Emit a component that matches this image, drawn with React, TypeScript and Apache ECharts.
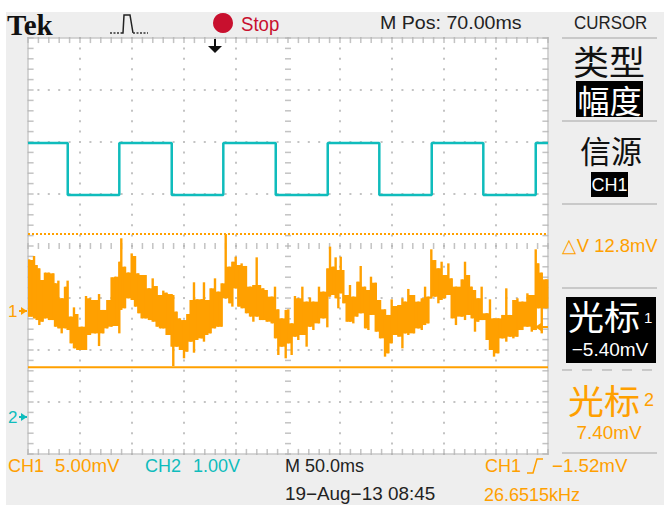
import React, { useEffect, useRef } from "react";
import * as echarts from "echarts";

// CH1 envelope: time (ms across the 500 ms screen), high and low reading (mV)
const ch1Time = [0.3,3.5,5.8,8.3,10.9,14.1,16.3,20.2,24.4,26.0,29.2,32.4,35.6,38.1,41.0,44.2,47.4,51.6,55.8,59.6,64.4,68.3,72.4,76.3,80.4,83.7,87.8,89.7,93.3,96.5,99.7,102.9,106.1,109.3,113.1,116.3,119.9,123.7,126.9,130.1,133.3,138.1,139.7,142.9,146.1,150,153.2,156.4,159.6,162.8,167,169.2,172.4,175.6,179.8,183,186.2,190.1,193.6,196.5,199.7,202.2,205.4,209.6,213.5,216.7,219.9,223.1,226.3,229.5,234.3,237.5,240.7,243.9,247.8,250.3,253.5,256.7,259.9,263.8,267.9,271.1,274.4,279.8,284,287.8,290.4,293.6,295.8,298.4,300.7,303.2,306.4,309.6,312.8,316.7,319.9,324.1,327.3,329.8,334.4,338.5,343.3,346.5,349.7,352.9,356.1,360,362.5,365.7,371.2,375.3,378.6,381.8,385,387.8,391.5,394.6,397.7,401,404.2,407.4,411.5,417,420.2,424,426.6,429.8,433,436.2,441,444.2,448.1,452.2,456.1,459.9,463.6,466.7,470.6,475.4,480.2,484.4,488.2,490.7,494,498.2];
const ch1High = [4.97,4.90,5.29,4.42,4.10,2.98,3.69,3.69,3.62,2.66,2.92,1.22,2.34,2.92,-0.54,0.35,-0.29,-1.51,1.44,1.22,1.06,1.63,0.10,1.06,3.24,3.30,4.74,6.99,4.26,3.69,5.54,5.29,3.62,3.46,3.46,2.18,3.14,2.40,1.54,1.96,1.76,1.63,1.54,-0.06,-0.71,-0.87,-0.29,1.06,2.76,1.12,1.12,2.76,1.06,2.18,3.14,1.86,2.66,7.40,4.26,4.74,5.22,4.42,4.58,4.33,2.34,2.50,5.16,2.50,2.18,2.02,1.38,2.34,0.16,-0.71,0.10,0.16,-1.19,1.44,1.22,2.34,0.90,1.31,0.90,2.34,1.86,4.10,6.19,4.26,5.16,3.94,5.22,3.94,1.54,2.50,1.38,2.82,4.33,2.34,2.02,3.30,2.72,1.06,0.16,-0.38,1.12,0.48,0.58,1.22,0.90,2.12,1.54,0.90,1.22,2.34,1.38,5.93,4.90,4.10,4.74,3.46,4.58,3.14,2.34,3.04,4.74,3.46,2.34,2.02,1.22,2.34,-0.22,1.12,-0.71,-0.71,-0.38,2.18,-0.38,1.06,1.22,0.90,1.70,1.54,5.93,4.58,3.69,3.04];
const ch1Low = [-0.54,-0.54,-0.71,-0.87,-1.35,-1.03,-0.71,-0.87,-0.87,-1.51,-1.67,-2.15,-1.67,-1.83,-3.11,-3.59,-3.75,-3.75,-3.75,-2.31,-2.15,-3.37,-2.15,-1.67,-1.51,-1.44,-2.15,0.10,0.26,1.22,1.06,0.42,-0.22,-0.71,-0.71,-0.87,-1.03,-1.51,-1.67,-1.67,-2.31,-3.43,-5.29,-3.43,-3.75,-4.55,-3.91,-2.95,-4.01,-2.79,-2.63,-2.95,-2.31,-2.15,-1.67,-1.51,-1.51,1.22,0.74,0.42,2.18,0.42,0.26,-0.22,-0.54,-1.03,-0.54,-0.87,-0.87,-1.03,-1.19,-2.63,-4.23,-3.43,-4.55,-3.11,-4.23,-2.47,-2.79,-2.31,-3.43,-1.51,-1.83,-1.19,-0.71,-1.57,1.38,1.54,1.22,0.26,1.70,0.74,-1.03,-1.03,-1.19,-0.54,-0.22,-1.67,-1.83,-0.38,-1.99,-2.63,-4.39,-4.07,-3.11,-2.31,-2.47,-3.59,-2.15,-2.31,-2.15,-1.67,-1.83,-1.35,-1.19,1.22,1.38,0.74,1.06,1.22,1.54,-0.71,-1.35,-0.54,-0.87,-0.38,-0.71,-1.99,-1.03,-0.87,-2.79,-3.75,-4.39,-4.07,-2.63,-2.95,-2.47,-2.63,-2.47,-1.83,-1.51,-1.99,-1.83,0.26,-2.15,0.26];

// CH2 square wave: edge times (ms) and levels (V)
const ch2Edges = [38.2,87.8,138.2,187.8,238.2,288.2,337.8,388.2,437.8,488.2];
const ch2HighV = 5.27;
const ch2LowV = 4.27;

const cursor1 = -5.4;
const cursor2 = 7.4;

const ORANGE = "#ffa000";
const TEAL = "#0fbcbc";
const GRAY = "#b4b4b4";
const LINE = "#c9c9c9";

function ch2Data() {
  const out: number[][] = [[0, ch2HighV]];
  let v = ch2HighV;
  for (const t of ch2Edges) {
    out.push([t, v]);
    v = v === ch2HighV ? ch2LowV : ch2HighV;
    out.push([t, v]);
  }
  out.push([500, v]);
  return out;
}

function ticks(points: number[][], size: number[], name: string) {
  return {
    type: "scatter", name, data: points, symbol: "rect", symbolSize: size, silent: true,
    itemStyle: { color: GRAY }, z: 1,
  };
}

function T(text: string, x: number, y: number, size: number, fill: string, opt: any = {}) {
  return {
    type: "text", x, y, scaleX: opt.sx ?? 1, z: 20, silent: true,
    style: {
      text, fill, textVerticalAlign: "middle", textAlign: opt.align ?? "left",
      font: `${opt.weight ?? "normal"} ${size}px ${opt.family ?? "'Liberation Sans', sans-serif"}`,
    },
  };
}
const CJK = "'Noto Sans CJK SC', sans-serif";

function Rule(x1: number, x2: number, y: number, dash?: number[]) {
  return { type: "line", z: 5, silent: true, shape: { x1, y1: y, x2, y2: y }, style: { stroke: LINE, lineWidth: 2, lineDash: dash } };
}
function Box(x: number, y: number, width: number, height: number, fill: string) {
  return { type: "rect", z: 5, silent: true, shape: { x, y, width, height }, style: { fill } };
}
function Arrow(x1: number, x2: number, y: number, color: string) {
  const d = x2 > x1 ? -1 : 1;
  return [
    { type: "line", z: 15, silent: true, shape: { x1, y1: y, x2, y2: y }, style: { stroke: color, lineWidth: 2 } },
    { type: "polygon", z: 15, silent: true, shape: { points: [[x2, y], [x2 + d * 6, y - 4], [x2 + d * 6, y + 4]] }, style: { fill: color } },
  ];
}

export default function App() {
  const ref = useRef<HTMLDivElement>(null);
  useEffect(() => {
    const chart = echarts.init(ref.current!, undefined, { renderer: "svg" });
    const dots: number[][] = [];
    const wide: number[][] = [];
    const tall: number[][] = [];
    for (let i = 0; i <= 50; i++) {
      const t = i * 10;
      for (let k = 1; k < 8; k++) if (k !== 4 && i % 5 !== 0) dots.push([t, k]);
      tall.push([t, 4]);
      tall.push([t, 0.04]);
      tall.push([t, 7.96]);
    }
    for (let j = 0; j <= 40; j++) {
      const d = j * 0.2;
      for (let k = 1; k < 10; k++) if (k !== 5) dots.push([k * 50, d]);
      wide.push([250, d]);
      wide.push([2.5, d]);
      wide.push([497.5, d]);
    }
    // each column: a thin spike from low to high, plus a solid body towards the next column
    const hiLo = ch1Time.map((t, i) => {
      const n = Math.min(i + 1, ch1Time.length - 1);
      return [t, ch1Low[i], ch1High[i], i === n ? 500 : ch1Time[n], Math.max(ch1Low[i], ch1Low[n]), Math.min(ch1High[i], ch1High[n])];
    });
    chart.setOption({
      animation: false,
      backgroundColor: "transparent",
      grid: { left: 28, top: 38, width: 520, height: 416, show: true, backgroundColor: "#ffffff", borderColor: LINE, borderWidth: 1.5 },
      xAxis: { type: "value", min: 0, max: 500, interval: 50, show: false },
      yAxis: [
        { type: "value", min: 0, max: 8, interval: 1, show: false },
        { type: "value", min: -13.75, max: 26.25, show: false },
        { type: "value", min: -0.71, max: 7.29, show: false },
      ],
      series: [
        ticks(dots, [2, 2], "graticule"),
        ticks(wide, [6, 1.5], "graticule-h"),
        ticks(tall, [1.5, 6], "graticule-v"),
        {
          type: "line", name: "CH2", yAxisIndex: 2, data: ch2Data(), showSymbol: false, silent: true, z: 3,
          lineStyle: { color: TEAL, width: 2.5 },
        },
        {
          type: "line", name: "Cursor 2", yAxisIndex: 1, data: [[0, cursor2], [500, cursor2]], showSymbol: false, silent: true, z: 3,
          lineStyle: { color: ORANGE, width: 2, type: [2, 2] },
        },
        {
          type: "line", name: "Cursor 1", yAxisIndex: 1, data: [[0, cursor1], [500, cursor1]], showSymbol: false, silent: true, z: 3,
          lineStyle: { color: ORANGE, width: 2 },
        },
        {
          type: "custom", name: "CH1", yAxisIndex: 1, data: hiLo, silent: true, z: 4,
          encode: { x: [0, 3], y: [1, 2] },
          renderItem: (_: any, api: any) => {
            const a = api.coord([api.value(0), api.value(2)]);
            const b = api.coord([api.value(0), api.value(1)]);
            const n = api.coord([api.value(3), api.value(5)]);
            const m = api.coord([api.value(3), api.value(4)]);
            const fill = ORANGE;
            const left = Math.max(28, a[0] - 1.2);
            const children: any[] = [
              { type: "rect", shape: { x: left, y: a[1], width: 2.4, height: b[1] - a[1] }, style: { fill } },
            ];
            children.push({
              type: "rect",
              shape: { x: a[0], y: Math.min(n[1], m[1]), width: n[0] - a[0] + 0.5, height: Math.max(Math.abs(m[1] - n[1]), 2) },
              style: { fill },
            });
            return { type: "group", children };
          },
        },
      ],
      graphic: [
        T("Tek", 7, 25, 29, "#111111", { weight: "bold", family: "'Liberation Serif', serif" }),
        { type: "polyline", z: 10, silent: true, shape: { points: [[121, 33], [123, 33], [124, 15], [130, 15], [133, 33]] }, style: { stroke: "#222", lineWidth: 1.5, fill: "none" } },
        { type: "line", z: 10, silent: true, shape: { x1: 110, y1: 33, x2: 121, y2: 33 }, style: { stroke: "#333", lineWidth: 1.5, lineDash: [2, 1.5] } },
        { type: "line", z: 10, silent: true, shape: { x1: 133, y1: 33, x2: 148, y2: 33 }, style: { stroke: "#333", lineWidth: 1.5, lineDash: [2, 1.5] } },
        { type: "circle", z: 10, silent: true, shape: { cx: 223, cy: 23, r: 10 }, style: { fill: "#c8102e" } },
        T("Stop", 241, 24, 20, "#c8102e", { sx: 0.93 }),
        { type: "line", z: 10, silent: true, shape: { x1: 215, y1: 39, x2: 215, y2: 48 }, style: { stroke: "#111", lineWidth: 2 } },
        { type: "polygon", z: 10, silent: true, shape: { points: [[208, 46], [222, 46], [215, 53]] }, style: { fill: "#111" } },
        T("M Pos: 70.00ms", 380, 23, 18, "#222222", { sx: 1.09 }),
        T("CURSOR", 574, 23, 18, "#222222", { sx: 0.94 }),
        Rule(562, 657, 38), Rule(562, 657, 121), Rule(562, 657, 204), Rule(562, 657, 288),
        Rule(562, 657, 370, [10, 10]), Rule(562, 657, 453),
        T("类型", 609, 60, 34, "#111111", { align: "center", family: CJK, sx: 1.06 }),
        Box(576, 81, 67, 36, "#000000"),
        T("幅度", 609.5, 99, 32, "#ffffff", { align: "center", family: CJK }),
        T("信源", 611, 149, 31, "#111111", { align: "center", family: CJK }),
        Box(591, 172, 37, 25, "#000000"),
        T("CH1", 609.5, 185, 18, "#ffffff", { align: "center", sx: 1 }),
        T("△V 12.8mV", 562, 245, 19, ORANGE, { sx: 0.97 }),
        Box(566, 297, 90, 66, "#000000"),
        T("光标", 604, 315, 34, "#ffffff", { align: "center", family: CJK, sx: 1.06 }),
        T("1", 644, 317, 15, "#ffffff"),
        T("−5.40mV", 610, 349, 19, "#ffffff", { align: "center" }),
        T("光标", 604, 399, 34, ORANGE, { align: "center", family: CJK, sx: 1.06 }),
        T("2", 644, 400, 18, ORANGE),
        T("7.40mV", 609, 433, 18, ORANGE, { align: "center", sx: 1.05 }),
        T("CH1", 8, 466, 18, ORANGE),
        T("5.00mV", 55, 466, 18, ORANGE, { sx: 1.04 }),
        T("CH2", 145, 466, 18, TEAL),
        T("1.00V", 193, 466, 18, TEAL),
        T("M 50.0ms", 285, 466, 18, "#222222"),
        T("19−Aug−13 08:45", 285, 494, 18, "#222222", { sx: 1.05 }),
        T("CH1", 485, 466, 18, ORANGE),
        { type: "polyline", z: 10, silent: true, shape: { points: [[527, 473], [533, 473], [537, 459], [543, 459]] }, style: { stroke: ORANGE, lineWidth: 1.5, fill: "none" } },
        T("−1.52mV", 552, 466, 18, ORANGE, { sx: 1.04 }),
        T("26.6515kHz", 484, 495, 18, ORANGE),
        T("1", 8, 311, 17, ORANGE),
        ...Arrow(19, 27, 311, ORANGE),
        T("2", 8, 417, 17, TEAL),
        ...Arrow(19, 27, 417, TEAL),
        ...Arrow(548, 535, 327, ORANGE),
      ],
    });
    return () => chart.dispose();
  }, []);
  return (
    <div style={{ position: "fixed", left: 0, top: 0, width: 664, height: 505, background: "#ffffff", overflow: "hidden" }}>
      <div style={{ position: "absolute", left: 6, top: 12, width: 658, height: 493, background: "#eeeeee" }} />
      <div ref={ref} style={{ position: "absolute", left: 0, top: 0, width: 664, height: 505 }} />
    </div>
  );
}
